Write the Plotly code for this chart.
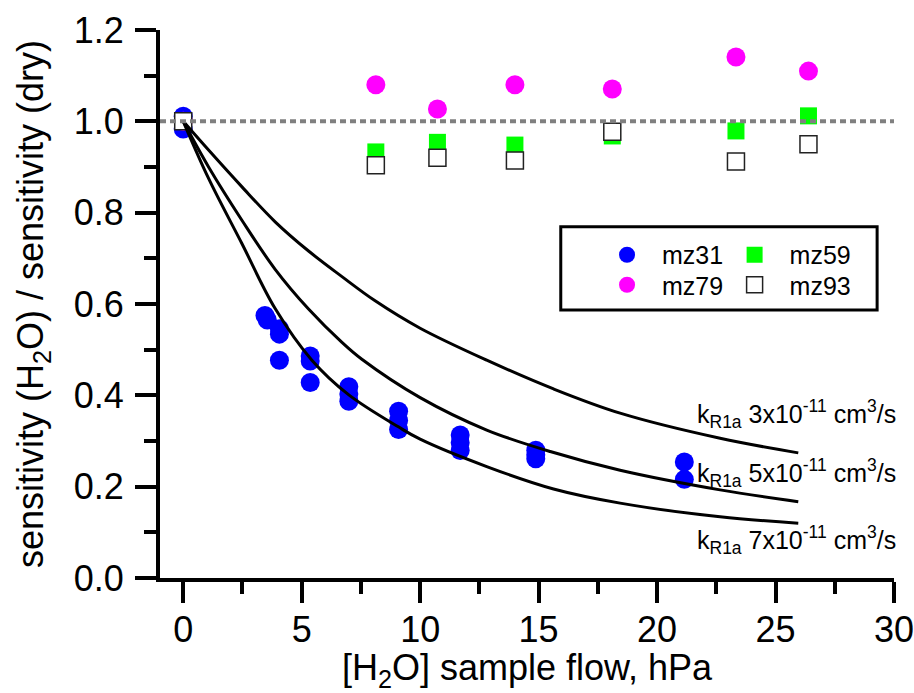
import plotly.graph_objects as go

# ---- data ----
mz31_x = [0, 0, 3.45, 3.55, 4.06, 4.06, 4.06, 5.36, 5.36, 5.36, 6.99, 6.99, 6.99,
          9.09, 9.09, 9.09, 11.69, 11.69, 11.69, 14.88, 14.88, 14.88, 21.15, 21.15]
mz31_y = [1.011, 0.983, 0.575, 0.565, 0.546, 0.534, 0.477, 0.486, 0.475, 0.428,
          0.419, 0.403, 0.387, 0.365, 0.345, 0.325, 0.313, 0.296, 0.279,
          0.280, 0.270, 0.261, 0.254, 0.216]

other_x = [0, 8.13, 10.73, 14.0, 18.11, 23.33, 26.39]
mz79_y = [1.0, 1.080, 1.027, 1.080, 1.071, 1.141, 1.110]
mz59_y = [1.0, 0.933, 0.954, 0.948, 0.968, 0.979, 1.012]
mz93_y = [1.0, 0.904, 0.920, 0.914, 0.977, 0.912, 0.950]

k3_x = [0, 1.07, 2.47, 3.88, 5.29, 6.70, 8.10, 10.0, 12.81, 15.63, 18.44, 22.66, 25.96]
k3_y = [1.0, 0.937, 0.857, 0.780, 0.716, 0.660, 0.607, 0.547, 0.477, 0.414, 0.361, 0.306, 0.274]
k5_x = [0, 1.07, 2.47, 3.88, 5.29, 6.70, 7.54, 10.0, 12.81, 15.49, 18.44, 22.66, 25.96]
k5_y = [1.0, 0.900, 0.784, 0.676, 0.589, 0.516, 0.479, 0.395, 0.324, 0.277, 0.236, 0.193, 0.167]
k7_x = [0, 1.07, 2.47, 3.88, 5.43, 6.99, 9.08, 10.0, 12.81, 15.63, 18.44, 22.66, 25.96]
k7_y = [1.0, 0.875, 0.733, 0.590, 0.477, 0.401, 0.331, 0.304, 0.244, 0.195, 0.164, 0.134, 0.120]

curve_labels = ["k<sub>R1a</sub> 3x10<sup>-11</sup> cm<sup>3</sup>/s",
                "k<sub>R1a</sub> 5x10<sup>-11</sup> cm<sup>3</sup>/s",
                "k<sub>R1a</sub> 7x10<sup>-11</sup> cm<sup>3</sup>/s"]
label_y = [0.359, 0.230, 0.083]

FONT = "Arial, Liberation Sans, sans-serif"

fig = go.Figure()
fig.add_trace(go.Scatter(x=mz31_x, y=mz31_y, mode="markers", name="mz31",
                         marker=dict(symbol="circle", size=19, color="#0000FF"),
                         legend="legend"))
fig.add_trace(go.Scatter(x=other_x, y=mz79_y, mode="markers", name="mz79",
                         marker=dict(symbol="circle", size=19, color="#FF00FF"),
                         legend="legend2"))
fig.add_trace(go.Scatter(x=other_x, y=mz59_y, mode="markers", name="mz59",
                         marker=dict(symbol="square", size=17, color="#00FF00"),
                         legend="legend3"))
fig.add_trace(go.Scatter(x=other_x, y=mz93_y, mode="markers", name="mz93",
                         marker=dict(symbol="square", size=17, color="white",
                                     line=dict(color="#222222", width=1.5)),
                         legend="legend4"))
for cx, cy in [(k3_x, k3_y), (k5_x, k5_y), (k7_x, k7_y)]:
    fig.add_trace(go.Scatter(x=cx, y=cy, mode="lines", showlegend=False,
                             line=dict(color="black", width=3, shape="spline",
                                       smoothing=1.0)))

fig.add_shape(type="line", xref="paper", yref="y", x0=0, x1=1, y0=1, y1=1,
              line=dict(color="#808080", width=4, dash="6px,4px"), layer="above")
# legend frame
fig.add_shape(type="rect", xref="paper", yref="paper", x0=0.546, x1=0.977,
              y0=0.489, y1=0.641, line=dict(color="black", width=3),
              fillcolor="rgba(0,0,0,0)", layer="above")

for txt, ly in zip(curve_labels, label_y):
    fig.add_annotation(text=txt, xref="paper", yref="y", x=1.006, y=ly,
                       xanchor="right", yanchor="middle", showarrow=False,
                       font=dict(family=FONT, size=25, color="black"))

axis_common = dict(showline=True, linewidth=4, linecolor="black", mirror=False,
                   showgrid=False, zeroline=False, ticks="outside", ticklen=21,
                   tickwidth=3.5, tickcolor="black", ticklabeloverflow="allow",
                   tickfont=dict(family=FONT, size=36, color="black"))
fig.update_xaxes(range=[-0.98, 30], tick0=0, dtick=5, **axis_common,
                 minor=dict(ticks="outside", ticklen=12, tickwidth=3.5,
                            tickcolor="black", dtick=2.5, tick0=0, showgrid=False),
                 ticklabelstandoff=-4,
                 title=dict(text="[H<sub>2</sub>O] sample flow, hPa",
                            font=dict(family=FONT, size=36, color="black"),
                            standoff=5))
fig.update_yaxes(range=[0, 1.2], tick0=0, dtick=0.2, tickformat=".1f", **axis_common,
                 minor=dict(ticks="outside", ticklen=12, tickwidth=3.5,
                            tickcolor="black", dtick=0.1, tick0=0, showgrid=False),
                 ticklabelstandoff=4,
                 title=dict(text="sensitivity (H<sub>2</sub>O) / sensitivity (dry)",
                            font=dict(family=FONT, size=36, color="black"),
                            standoff=20))

legend_common = dict(bgcolor="rgba(0,0,0,0)", borderwidth=0, itemwidth=60,
                     font=dict(family=FONT, size=25, color="black"),
                     xanchor="left", yanchor="top", orientation="v")
fig.update_layout(
    width=914, height=693,
    margin=dict(l=160, r=20, t=30, b=115, autoexpand=False),
    plot_bgcolor="white", paper_bgcolor="white",
    font=dict(family=FONT, color="black"),
    legend=dict(x=0.5886, y=0.6314, **legend_common),
    legend2=dict(x=0.5886, y=0.5766, **legend_common),
    legend3=dict(x=0.7624, y=0.6314, **legend_common),
    legend4=dict(x=0.7624, y=0.5766, **legend_common),
)
fig.write_html("out.html", config={"displayModeBar": False},
               post_script="document.body.style.margin='0px';"
                           "document.body.style.overflow='hidden';")
